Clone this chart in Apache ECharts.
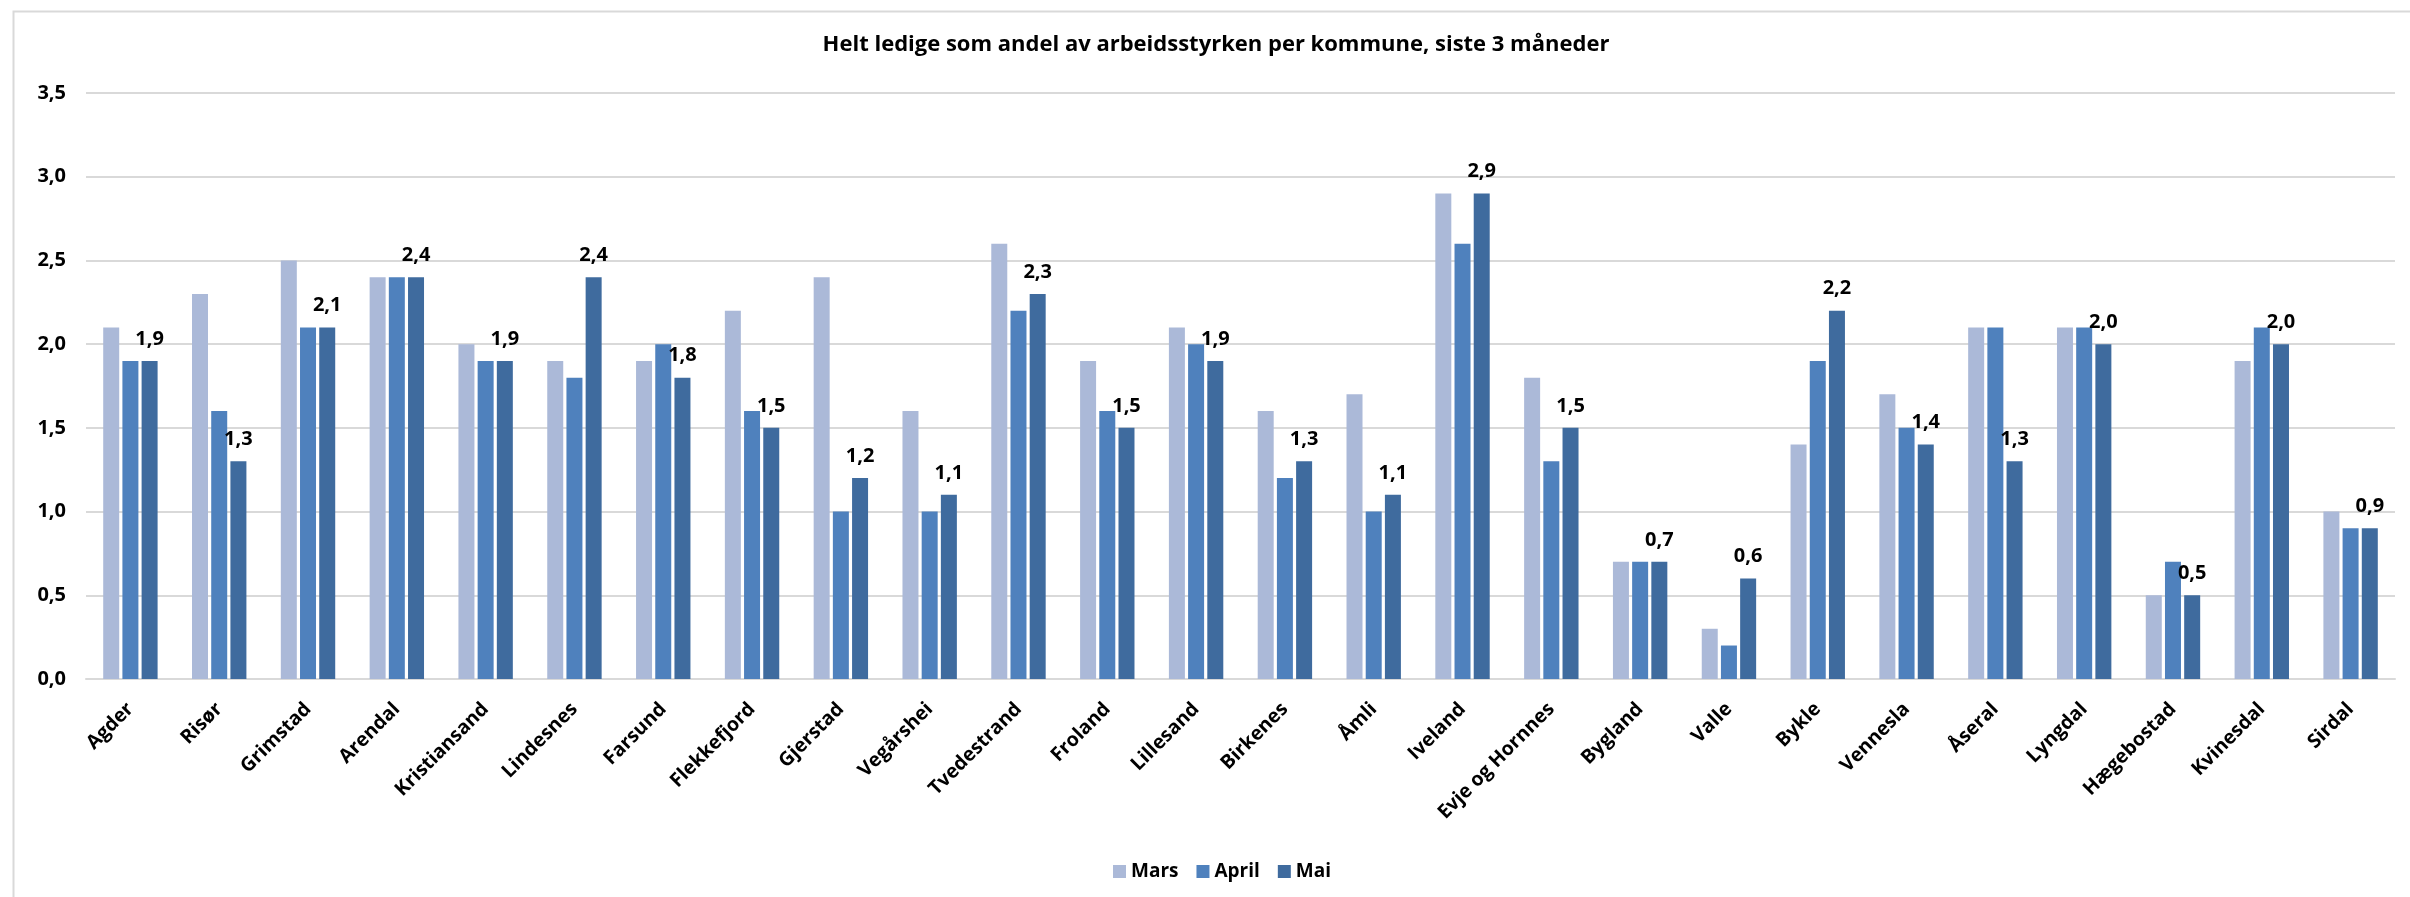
<!DOCTYPE html>
<html>
<head>
<meta charset="utf-8">
<script src="https://cdn.jsdelivr.net/npm/echarts@6/dist/echarts.min.js"></script>
<style>
html,body{margin:0;padding:0;background:#fff;}
#c{width:2410px;height:897px;}
</style>
</head>
<body>
<div id="c"></div>
<script>
const titleText = 'Helt ledige som andel av arbeidsstyrken per kommune, siste 3 måneder';
const categories = ['Agder','Risør','Grimstad','Arendal','Kristiansand','Lindesnes','Farsund','Flekkefjord','Gjerstad','Vegårshei','Tvedestrand','Froland','Lillesand','Birkenes','Åmli','Iveland','Evje og Hornnes','Bygland','Valle','Bykle','Vennesla','Åseral','Lyngdal','Hægebostad','Kvinesdal','Sirdal'];
const seriesNames = ['Mars','April','Mai'];
const mars  = [2.1,2.3,2.5,2.4,2.0,1.9,1.9,2.2,2.4,1.6,2.6,1.9,2.1,1.6,1.7,2.9,1.8,0.7,0.3,1.4,1.7,2.1,2.1,0.5,1.9,1.0];
const april = [1.9,1.6,2.1,2.4,1.9,1.8,2.0,1.6,1.0,1.0,2.2,1.6,2.0,1.2,1.0,2.6,1.3,0.7,0.2,1.9,1.5,2.1,2.1,0.7,2.1,0.9];
const mai   = [1.9,1.3,2.1,2.4,1.9,2.4,1.8,1.5,1.2,1.1,2.3,1.5,1.9,1.3,1.1,2.9,1.5,0.7,0.6,2.2,1.4,1.3,2.0,0.5,2.0,0.9];
const yMin = 0, yMax = 3.5, yStep = 0.5;

const FONT = '"Open Sans", "Noto Sans", sans-serif';
const colors = ['#ABB9D8','#4F81BD','#3F6B9E'];
const fmt = v => Number(v).toFixed(1).replace('.', ',');

const chart = echarts.init(document.getElementById('c'), null, {renderer:'canvas'});
const mk = (name, data, i, withLabel) => ({
  name: name,
  type: 'bar',
  data: data,
  barWidth: 16,
  barGap: '20%',
  itemStyle: {color: colors[i]},
  label: withLabel ? {
    show: true, position: 'top', distance: 12,
    formatter: p => fmt(p.value),
    fontFamily: FONT, fontWeight: 'bold', fontSize: 20, color: '#000'
  } : {show:false},
  emphasis: {disabled: true}
});
chart.setOption({
  animation: false,
  backgroundColor: '#fff',
  color: colors,
  title: {
    text: titleText,
    left: 1211, top: 29, textAlign: 'center',
    textStyle: {fontFamily: FONT, fontWeight: 'bold', fontSize: 22, color: '#000'}
  },
  graphic: [{
    type: 'rect', left: 11, top: 9, silent: true, z: -1,
    shape: {x: 0, y: 0, width: 2430, height: 920},
    style: {fill: 'none', stroke: '#D9D9D9', lineWidth: 2}
  }],
  legend: {
    data: seriesNames,
    left: 1108, top: 857,
    itemWidth: 13, itemHeight: 13, itemGap: 18,
    icon: 'rect',
    textStyle: {fontFamily: FONT, fontWeight: 'bold', fontSize: 19, color: '#000'}
  },
  grid: {left: 86, right: 15, top: 93, bottom: 218, containLabel: false},
  xAxis: {
    type: 'category', data: categories,
    axisLine: {show: true, lineStyle: {color: '#D9D9D9', width: 2}},
    axisTick: {show: false},
    axisLabel: {
      interval: 0, rotate: 45, margin: 27,
      fontFamily: FONT, fontWeight: 'bold', fontSize: 19.5, color: '#000'
    }
  },
  yAxis: {
    type: 'value', min: yMin, max: yMax, interval: yStep,
    axisLine: {show: false}, axisTick: {show: false},
    splitLine: {lineStyle: {color: '#D9D9D9', width: 2}},
    axisLabel: {
      margin: 20, formatter: v => fmt(v),
      fontFamily: FONT, fontWeight: 'bold', fontSize: 20, color: '#000'
    }
  },
  series: [mk('Mars', mars, 0, false), mk('April', april, 1, false), mk('Mai', mai, 2, true)]
});
</script>
</body>
</html>
